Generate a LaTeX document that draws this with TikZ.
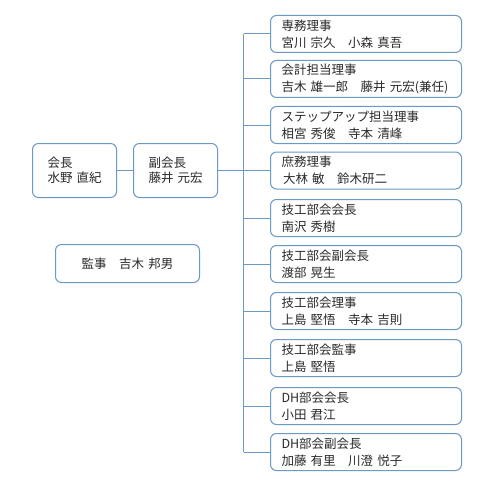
\documentclass[tikz,border=0pt]{standalone}
\usepackage{fontspec}
\setmainfont{Noto Sans CJK JP}
\definecolor{bc}{HTML}{6A99C6}
\definecolor{tc}{HTML}{2A2A2A}
\tikzset{
  orgbox/.style={draw=bc, line width=1pt, rounded corners=6pt, fill=white, text=tc,
    font=\fontsize{12.5}{17}\selectfont, align=left, inner ysep=0pt, anchor=north west},
  rbox/.style={orgbox, text width=169pt, inner xsep=11pt, minimum height=37pt},
  lbox/.style={orgbox, font=\fontsize{12.5}{14.5}\selectfont, text width=54pt, inner xsep=15pt, minimum height=54pt},
  abox/.style={orgbox, align=center, text width=124pt, inner xsep=10pt, minimum height=38pt},
  link/.style={draw=bc, line width=1pt},
}
\begin{document}
\begin{tikzpicture}[x=1pt,y=-1pt]
\useasboundingbox (0,0) rectangle (480,500);
\fill[white] (0,0) rectangle (480,500);
% left boxes
\node[lbox] (pres) at (32,143) {\raisebox{-1.5pt}{会長}\\\raisebox{-1.5pt}{\mbox{水野 直紀}}};
\node[lbox] (vp) at (133,143) {\raisebox{-1.5pt}{副会長}\\\raisebox{-1.5pt}{\mbox{藤井 元宏}}};
\node[abox] (audit) at (55,244) {監事　吉木 邦男};
% right boxes
\node[rbox] (r1) at (270,15) {専務理事\\宮川 宗久　小森 真吾};
\node[rbox] (r2) at (270,60) {会計担当理事\\吉木 雄一郎　藤井 元宏(兼任)};
\node[rbox] (r3) at (270,106) {ステップアップ担当理事\\相宮 秀俊　寺本 清峰};
\node[rbox] (r4) at (270,151.5) {庶務理事\\\hspace*{1.5pt}大林 敏　鈴木研二};
\node[rbox] (r5) at (270,199) {技工部会会長\\南沢 秀樹};
\node[rbox] (r6) at (270,245) {技工部会副会長\\渡部 晃生};
\node[rbox] (r7) at (270,292) {技工部会理事\\上島 堅悟　寺本 吉則};
\node[rbox] (r8) at (270,339) {技工部会監事\\上島 堅悟};
\node[rbox] (r9) at (270,387) {DH部会会長\\小田 君江};
\node[rbox] (r10) at (270,433) {DH部会副会長\\加藤 有里　川澄 悦子};
% connectors
\coordinate (tx) at (243.5,0);
\draw[link] (tx |- r1.west) -- (tx |- r10.west);
\foreach \i in {1,...,10} \draw[link] (tx |- r\i.west) -- (r\i.west);
\draw[link] (vp.east) -- (tx |- vp.east);
\draw[link] (pres.east) -- (vp.west);
\end{tikzpicture}
\end{document}
